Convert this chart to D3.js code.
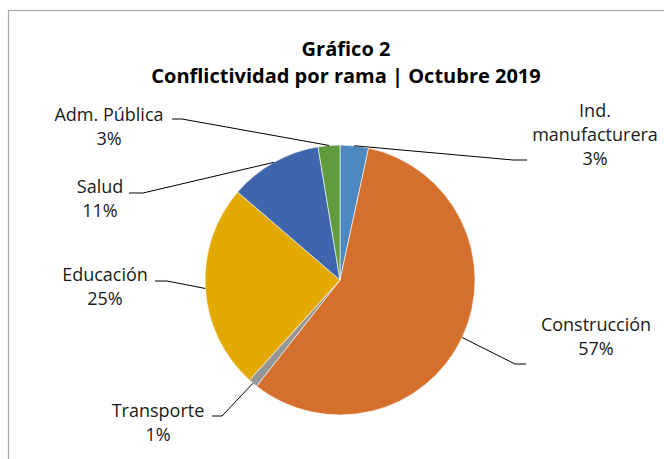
<!DOCTYPE html>
<html>
  <head>
    <meta charset="UTF-8">
    <style>
      body {
        margin: 0;
        background: #fff;
        font-family: "Open Sans", Lato, sans-serif;
      }

      .title text {
        font-weight: bold;
        font-size: 20px;
        fill: #000;
      }

      .labels text {
        font-size: 18px;
        fill: #1a1a1a;
      }

      .leaders path {
        fill: none;
        stroke: #000;
        stroke-width: 1;
      }
    </style>
    <script src="https://d3js.org/d3.v7.min.js"></script>
  </head>

  <body>
    <svg id="chart"></svg>

    <script type="text/javascript">
      // datos
      const categories = ['Ind.\nmanufacturera', 'Construcción', 'Transporte', 'Educación', 'Salud', 'Adm. Pública']
      const shares = [3.4, 57.2, 1.1, 24.6, 11.1, 2.6]
      const colors = ['#4e88c0', '#d4702c', '#969696', '#e2aa00', '#3f65ad', '#5f9c3e']
      const titleLines = ['Gráfico 2', 'Conflictividad por rama | Octubre 2019']

      // dónde va cada etiqueta: centro del texto, primera línea base, codo y extremo de la guía
      const labelLayout = [
        { x: 595, y: 117, elbow: [513, 160], end: 527 },
        { x: 596, y: 331, elbow: [515, 364], end: 526 },
        { x: 158, y: 417, elbow: [222, 416], end: 212 },
        { x: 105, y: 281, elbow: [167, 281], end: 155 },
        { x: 100, y: 193, elbow: [143, 193], end: 129 },
        { x: 109, y: 121, elbow: [182, 119], end: 172 }
      ]

      function getChartConfig() {
        let width = 664
        let height = 459
        let center = { x: 340, y: 280 }
        let radius = 135

        let container = d3.select('#chart')
          .attr('width', width)
          .attr('height', height)

        return { width, height, center, radius, container }
      }

      function drawChart(config) {
        let svg = config.container

        // marco del área del gráfico
        svg.append('rect')
          .attr('x', 8.5)
          .attr('y', 10.5)
          .attr('width', 700)
          .attr('height', 500)
          .attr('fill', '#fff')
          .attr('stroke', '#a6a6a6')
          .attr('stroke-width', 1.2)

        svg.append('g')
          .attr('class', 'title')
          .selectAll('text')
          .data(titleLines)
          .enter()
          .append('text')
          .attr('x', 346)
          .attr('y', (d, i) => 56 + i * 27)
          .attr('text-anchor', 'middle')
          .text(d => d)

        let total = d3.sum(shares)
        let pie = d3.pie().sort(null).value(d => d)
        let arcs = pie(shares)

        let arc = d3.arc()
          .innerRadius(0)
          .outerRadius(config.radius)

        let g = svg.append('g')
          .attr('transform', `translate(${config.center.x}, ${config.center.y})`)

        g.append('g')
          .attr('class', 'slices')
          .selectAll('path')
          .data(arcs)
          .enter()
          .append('path')
          .attr('d', arc)
          .attr('fill', (d, i) => colors[i])
          .attr('stroke', '#fff')
          .attr('stroke-width', 0.6)

        // guías desde el borde del sector hasta la etiqueta
        let edgePoint = d => {
          let a = (d.startAngle + d.endAngle) / 2
          return [config.center.x + config.radius * Math.sin(a), config.center.y - config.radius * Math.cos(a)]
        }

        svg.append('g')
          .attr('class', 'leaders')
          .selectAll('path')
          .data(arcs)
          .enter()
          .append('path')
          .attr('d', (d, i) => {
            let p = edgePoint(d)
            let l = labelLayout[i]
            return d3.line()([p, l.elbow, [l.end, l.elbow[1]]])
          })

        let fmt = d3.format('.0%')

        let labels = svg.append('g')
          .attr('class', 'labels')
          .selectAll('text')
          .data(arcs)
          .enter()
          .append('text')
          .attr('text-anchor', 'middle')
          .attr('x', (d, i) => labelLayout[i].x)
          .attr('y', (d, i) => labelLayout[i].y)

        labels.each(function (d, i) {
          let lines = categories[i].split('\n').concat([fmt(d.value / total)])
          d3.select(this)
            .selectAll('tspan')
            .data(lines)
            .enter()
            .append('tspan')
            .attr('x', labelLayout[i].x)
            .attr('dy', (t, j) => j === 0 ? 0 : 24)
            .text(t => t)
        })
      }

      let config = getChartConfig()
      drawChart(config)
    </script>
  </body>
</html>
